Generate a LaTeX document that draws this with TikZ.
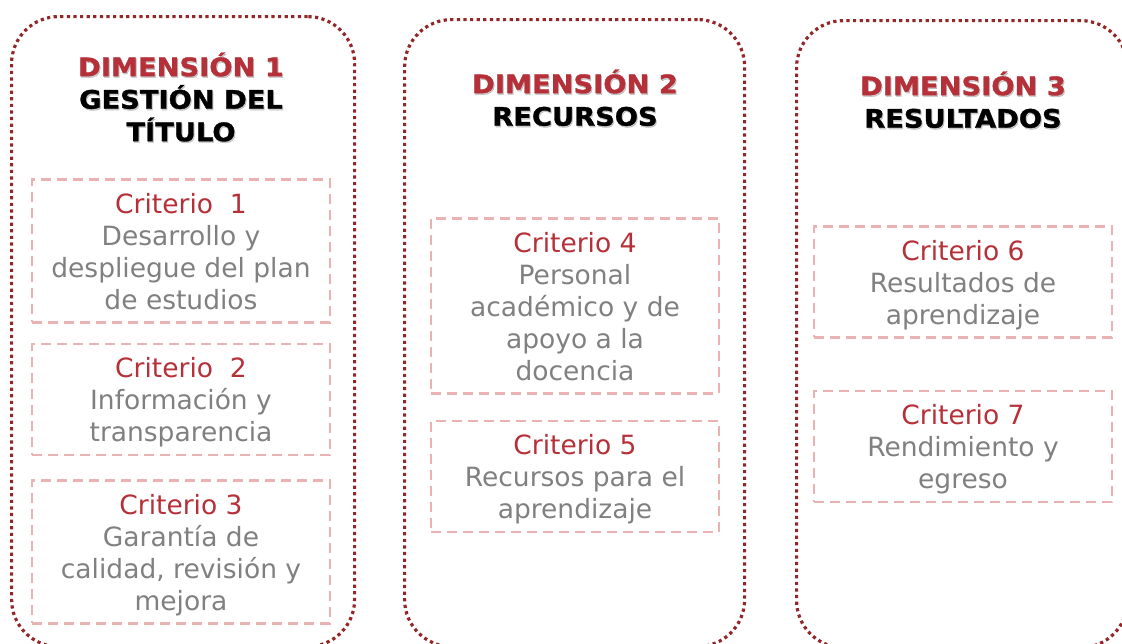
\documentclass[tikz,border=0pt]{standalone}
\usepackage{fontspec}
\setmainfont{DejaVu Sans}
\newfontfamily\headfont[FakeStretch=1.07, BoldFeatures={FakeBold=1.3}]{DejaVu Sans}
\usetikzlibrary{positioning}

\definecolor{dimred}{RGB}{181,48,56}
\definecolor{panelred}{RGB}{148,38,40}
\definecolor{boxpink}{RGB}{234,178,178}
\definecolor{bodygray}{RGB}{128,128,128}

\newcommand{\topgap}{\rule{0pt}{34pt}}
\newcommand{\botgap}{\rule[-13pt]{0pt}{13pt}}
\newcommand{\headgap}{\rule{0pt}{26pt}}
\newcommand{\crit}[1]{\textcolor{dimred}{Criterio #1}}
\newcommand{\dimtitle}[1]{\textcolor{dimred}{#1}}

\tikzset{
  panel/.style={draw=panelred, line width=3.2pt, dash pattern=on 3.2pt off 3.4pt,
    rounded corners=47pt, anchor=north west, inner sep=0pt},
  critbox/.style={draw=boxpink, line width=2.5pt, dash pattern=on 10pt off 6pt,
    anchor=north, inner sep=0pt, align=center, text=bodygray,
    font=\fontsize{26.5}{32}\selectfont},
  head/.style={anchor=north, inner sep=0pt, align=center,
    font=\headfont\bfseries\fontsize{25.5}{32.5}\selectfont},
  headshadow/.style={head, text=black, opacity=0.2,
    execute at begin node={\let\dimtitle\relax}},
}

\begin{document}
\begin{tikzpicture}[x=1pt,y=-1pt]
  \useasboundingbox (0,0) rectangle (1122,643);

  % dimensions
  \node[panel, minimum width=343pt, minimum height=630pt] (dim1) at (10,15)  {};
  \node[panel, minimum width=340pt, minimum height=627pt] (dim2) at (403,18) {};
  \node[panel, minimum width=331pt, minimum height=627pt] (dim3) at (795,19) {};

  % titles (with a soft shadow behind)
  \node[headshadow] (shadow1) at (182,51.5) {\headgap\dimtitle{DIMENSIÓN 1}\\GESTIÓN DEL\\TÍTULO};
  \node[headshadow] (shadow2) at (576,68.5) {\headgap\dimtitle{DIMENSIÓN 2}\\RECURSOS};
  \node[headshadow] (shadow3) at (964,70.5) {\headgap\dimtitle{DIMENSIÓN 3}\\RESULTADOS};
  \node[head] (head1) at (181,50) {\headgap\dimtitle{DIMENSIÓN 1}\\GESTIÓN DEL\\TÍTULO};
  \node[head] (head2) at (575,67) {\headgap\dimtitle{DIMENSIÓN 2}\\RECURSOS};
  \node[head] (head3) at (963,69) {\headgap\dimtitle{DIMENSIÓN 3}\\RESULTADOS};

  % criterios
  \node[critbox, minimum width=298pt] (crit1) at (181,178)
    {\topgap\crit{\ 1}\\Desarrollo y\\despliegue del plan\\de estudios\botgap};
  \node[critbox, minimum width=298pt] (crit2) [below=19pt of crit1]
    {\topgap\crit{\ 2}\\Información y\\transparencia\botgap};
  \node[critbox, minimum width=298pt] (crit3) [below=23pt of crit2]
    {\topgap\crit{3}\\Garantía de\\calidad, revisión y\\mejora\botgap};

  \node[critbox, minimum width=288pt] (crit4) at (575,217)
    {\topgap\crit{4}\\Personal\\académico y de\\apoyo a la\\docencia\botgap};
  \node[critbox, minimum width=288pt] (crit5) [below=25pt of crit4]
    {\topgap\crit{5}\\Recursos para el\\aprendizaje\botgap};

  \node[critbox, minimum width=298pt] (crit6) at (963,225)
    {\topgap\crit{6}\\Resultados de\\aprendizaje\botgap};
  \node[critbox, minimum width=298pt] (crit7) [below=51pt of crit6]
    {\topgap\crit{7}\\Rendimiento y\\egreso\botgap};
\end{tikzpicture}
\end{document}
